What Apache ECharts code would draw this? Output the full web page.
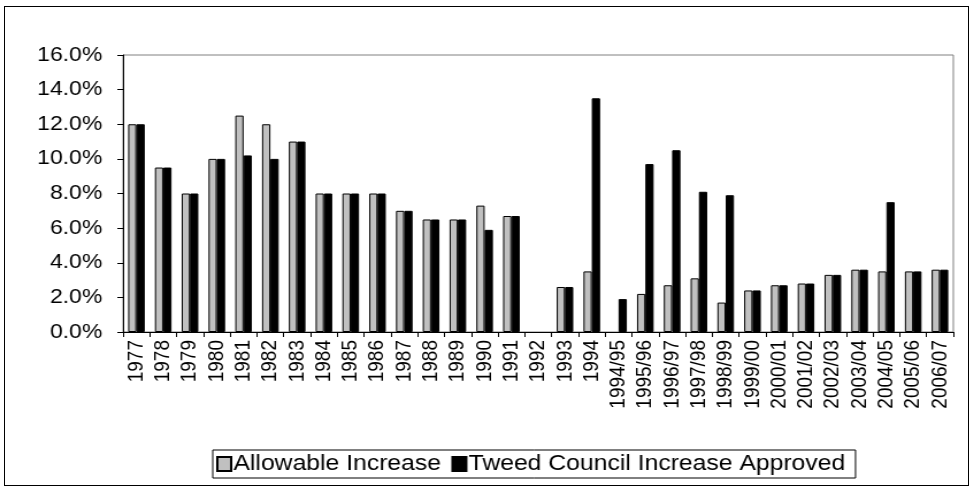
<!DOCTYPE html>
<html>
<head>
<meta charset="utf-8">
<script src="https://cdn.jsdelivr.net/npm/echarts@6/dist/echarts.min.js"></script>
<style>
    html, body { margin: 0; padding: 0; background: #fff; }
    .page { position: relative; width: 972px; height: 490px; overflow: hidden; }
    /* the source picture is a stretched Excel chart, so draw narrower and stretch it the same way */
    #rateChart { width: 845px; height: 490px; transform: scaleX(1.15); transform-origin: 0 0; }
    .frame { position: absolute; left: 4px; top: 6px; width: 963px; height: 478px;
             border: 1px solid #000; pointer-events: none; }
</style>
</head>
<body>
<div class="page">
    <div id="rateChart"></div>
    <div class="frame"></div>
</div>
<script>
    // rate years
    var years = ['1977', '1978', '1979', '1980', '1981', '1982', '1983', '1984', '1985', '1986',
        '1987', '1988', '1989', '1990', '1991', '1992', '1993', '1994',
        '1994/95', '1995/96', '1996/97', '1997/98', '1998/99', '1999/00', '2000/01',
        '2001/02', '2002/03', '2003/04', '2004/05', '2005/06', '2006/07'];

    // percent values
    var allowable = [12.0, 9.5, 8.0, 10.0, 12.5, 12.0, 11.0, 8.0, 8.0, 8.0,
        7.0, 6.5, 6.5, 7.3, 6.7, null, 2.6, 3.5,
        null, 2.2, 2.7, 3.1, 1.7, 2.4, 2.7, 2.8, 3.3, 3.6, 3.5, 3.5, 3.6];
    var tweed = [12.0, 9.5, 8.0, 10.0, 10.2, 10.0, 11.0, 8.0, 8.0, 8.0,
        7.0, 6.5, 6.5, 5.9, 6.7, null, 2.6, 13.5,
        1.9, 9.7, 10.5, 8.1, 7.9, 2.4, 2.7, 2.8, 3.3, 3.6, 7.5, 3.5, 3.6];

    var fontName = '"Liberation Sans", Arial, sans-serif';

    var chart = echarts.init(document.getElementById('rateChart'));
    var option = {
        animation: false,
        backgroundColor: '#fff',
        textStyle: { fontFamily: fontName, color: '#000' },
        grid: {
            left: 107,
            right: 16,
            top: 55,
            bottom: 158,
            show: true,
            borderColor: '#808080',
            borderWidth: 1
        },
        legend: {
            left: 185,
            top: 450,
            itemWidth: 12,
            itemHeight: 14,
            itemGap: 9,
            icon: 'rect',
            padding: [3, 9, 3, 3],
            borderColor: '#000',
            borderWidth: 1,
            borderRadius: 0,
            textStyle: { fontFamily: fontName, fontSize: 21.5, color: '#000', padding: [0, 0, 0, -3] },
            data: ['Allowable Increase', 'Tweed Council Increase Approved']
        },
        xAxis: {
            type: 'category',
            data: years,
            axisLine: { lineStyle: { color: '#000', width: 1 } },
            axisTick: { show: true, length: 5, lineStyle: { color: '#000' } },
            axisLabel: {
                interval: 0,
                rotate: 90,
                margin: 8,
                fontSize: 19,
                color: '#000',
                fontFamily: fontName
            }
        },
        yAxis: {
            type: 'value',
            min: 0,
            max: 16,
            interval: 2,
            axisLine: { show: true, lineStyle: { color: '#000', width: 1 } },
            axisTick: { show: true, length: 5, lineStyle: { color: '#000' } },
            splitLine: { show: false },
            axisLabel: {
                margin: 18,
                fontSize: 20,
                color: '#000',
                fontFamily: fontName,
                formatter: function (v) { return v.toFixed(1) + '%'; }
            }
        },
        series: [
            {
                name: 'Allowable Increase',
                type: 'bar',
                barGap: '0%',
                barCategoryGap: '38%',
                itemStyle: { color: '#c0c0c0', borderColor: '#000', borderWidth: 1 },
                data: allowable
            },
            {
                name: 'Tweed Council Increase Approved',
                type: 'bar',
                barGap: '0%',
                barCategoryGap: '38%',
                itemStyle: { color: '#000', borderColor: '#000', borderWidth: 1 },
                data: tweed
            }
        ]
    };
    chart.setOption(option);

    window.addEventListener('resize', function () {
        chart.resize();
    });
</script>
</body>
</html>
